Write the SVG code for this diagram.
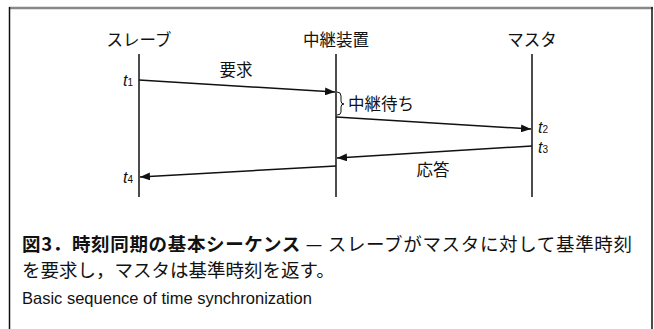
<svg xmlns="http://www.w3.org/2000/svg" width="654" height="329" viewBox="0 0 654 329">
<style>
.jp{font-family:"Noto Sans CJK JP","Liberation Sans",sans-serif;font-size:16.5px;fill:#111}
.life{stroke:#111;stroke-width:1.5;fill:none}
.msg{stroke:#111;stroke-width:1.5;fill:none;marker-end:url(#ah)}
.t{font-family:"Liberation Sans",Arial,sans-serif;font-size:16px;font-style:italic;fill:#111}
.sub{font-size:10px;font-style:normal}
.cap{font-family:"Noto Sans CJK JP",sans-serif;font-size:18.5px;fill:#111}
.en{font-family:"Liberation Sans",Arial,sans-serif;font-size:16.5px;fill:#111}
</style>
<defs>
<marker id="ah" viewBox="0 0 10 8" refX="10" refY="4" markerWidth="10" markerHeight="8" markerUnits="userSpaceOnUse" orient="auto">
<path d="M0,0 L10,4 L0,8 Z" fill="#111"/>
</marker>
</defs>
<rect width="654" height="329" fill="#fff"/>
<g id="frame">
<line x1="9" y1="8" x2="653" y2="8" stroke="#888" stroke-width="2.5"/>
<line x1="9.5" y1="7" x2="9.5" y2="329" stroke="#111" stroke-width="1.5"/>
<line x1="652" y1="7" x2="652" y2="329" stroke="#111" stroke-width="1.5"/>
</g>
<g id="slave">
<text class="jp" x="139" y="46" text-anchor="middle">スレーブ</text>
<line class="life" x1="139" y1="54" x2="139" y2="197"/>
</g>
<g id="relay">
<text class="jp" x="336" y="46" text-anchor="middle">中継装置</text>
<line class="life" x1="336" y1="54" x2="336" y2="197"/>
</g>
<g id="master">
<text class="jp" x="532" y="46" text-anchor="middle">マスタ</text>
<line class="life" x1="532" y1="54" x2="532" y2="197"/>
</g>
<g id="connectors">
<line class="msg" x1="139" y1="80" x2="335" y2="92"/>
<line class="msg" x1="336" y1="117" x2="531" y2="129"/>
<line class="msg" x1="532" y1="146" x2="337" y2="158"/>
<line class="msg" x1="336" y1="166" x2="140" y2="177"/>
<path d="M337,92 Q341,92 341,96 L341,101 Q341,104 344,104 Q341,104 341,107 L341,112 Q341,115 337,115" stroke="#111" stroke-width="1" fill="none"/>
</g>
<g id="labels">
<text class="jp" x="236" y="76" text-anchor="middle">要求</text>
<text class="jp" x="348" y="110">中継待ち</text>
<text class="jp" x="433" y="176" text-anchor="middle">応答</text>
<text class="t" x="133" y="86" text-anchor="end">t<tspan class="sub">1</tspan></text>
<text class="t" x="538" y="133">t<tspan class="sub">2</tspan></text>
<text class="t" x="538" y="153">t<tspan class="sub">3</tspan></text>
<text class="t" x="133" y="183" text-anchor="end">t<tspan class="sub">4</tspan></text>
</g>
<g id="caption">
<text class="cap" x="22" y="251" textLength="610" lengthAdjust="spacing"><tspan font-weight="bold">図3．時刻同期の基本シーケンス</tspan><tspan> — スレーブがマスタに対して基準時刻</tspan></text>
<text class="cap" x="22" y="277">を要求し，マスタは基準時刻を返す。</text>
<text class="en" x="22" y="304">Basic sequence of time synchronization</text>
</g>
</svg>
